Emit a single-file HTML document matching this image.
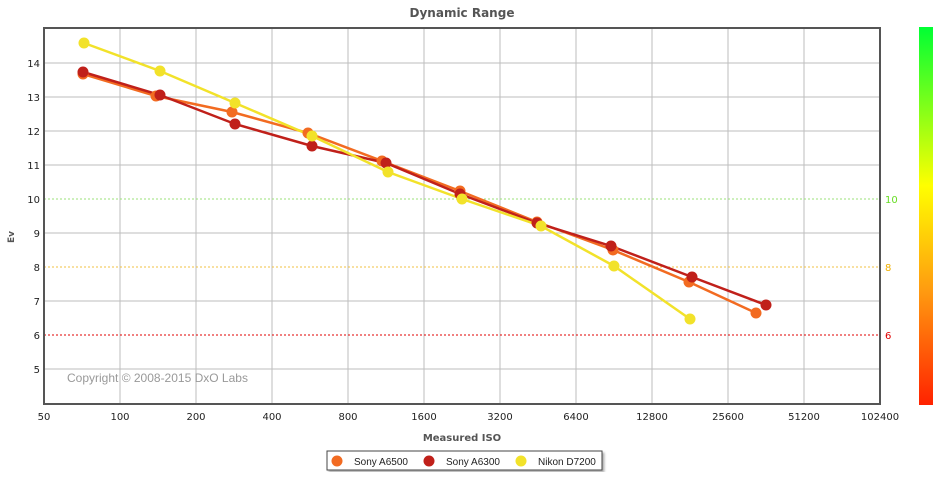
<!DOCTYPE html>
<html><head><meta charset="utf-8"><style>
body{margin:0;background:#fff;width:947px;height:487px;overflow:hidden}
svg{font-family:"Liberation Sans",sans-serif}
.v{font-family:"DejaVu Sans",sans-serif}
</style></head><body>
<svg width="947" height="487" xmlns="http://www.w3.org/2000/svg">
<defs>
<linearGradient id="cb" x1="0" y1="0" x2="0" y2="1">
<stop offset="0" stop-color="#00ff33"/><stop offset="0.42" stop-color="#ffff00"/><stop offset="0.7" stop-color="#ff9a10"/><stop offset="1" stop-color="#ff2200"/>
</linearGradient>
<filter id="sh"><feDropShadow dx="2" dy="2" stdDeviation="1" flood-opacity="0.3"/></filter>
</defs>
<text class="v" x="462" y="17" text-anchor="middle" font-size="12" font-weight="bold" fill="#555">Dynamic Range</text>
<g stroke="#bdbdbd" stroke-width="1">
<line x1="120" y1="28" x2="120" y2="404"/><line x1="196" y1="28" x2="196" y2="404"/><line x1="272" y1="28" x2="272" y2="404"/><line x1="348" y1="28" x2="348" y2="404"/><line x1="424" y1="28" x2="424" y2="404"/><line x1="500" y1="28" x2="500" y2="404"/><line x1="576" y1="28" x2="576" y2="404"/><line x1="652" y1="28" x2="652" y2="404"/><line x1="728" y1="28" x2="728" y2="404"/><line x1="804" y1="28" x2="804" y2="404"/>
<line x1="44" y1="63" x2="880" y2="63"/><line x1="44" y1="97" x2="880" y2="97"/><line x1="44" y1="131" x2="880" y2="131"/><line x1="44" y1="165" x2="880" y2="165"/><line x1="44" y1="233" x2="880" y2="233"/><line x1="44" y1="301" x2="880" y2="301"/><line x1="44" y1="369" x2="880" y2="369"/>
</g>
<line x1="44" y1="199" x2="880" y2="199" stroke="#9be07a" stroke-dasharray="2,2"/>
<line x1="44" y1="267" x2="880" y2="267" stroke="#f0c040" stroke-dasharray="2,2"/>
<line x1="44" y1="335" x2="880" y2="335" stroke="#e00000" stroke-dasharray="2,2"/>
<rect x="44" y="28" width="836" height="376" fill="none" stroke="#555" stroke-width="2"/>
<g class="v" font-size="10" fill="#222" text-anchor="end">
<text x="40" y="67">14</text><text x="40" y="101">13</text><text x="40" y="135">12</text><text x="40" y="169">11</text><text x="40" y="203">10</text><text x="40" y="237">9</text><text x="40" y="271">8</text><text x="40" y="305">7</text><text x="40" y="339">6</text><text x="40" y="373">5</text>
</g>
<g class="v" font-size="10">
<text x="885" y="203" fill="#66dd22">10</text><text x="885" y="271" fill="#f0b000">8</text><text x="885" y="339" fill="#e00000">6</text>
</g>
<g class="v" font-size="10" fill="#222" text-anchor="middle">
<text x="44" y="420">50</text><text x="120" y="420">100</text><text x="196" y="420">200</text><text x="272" y="420">400</text><text x="348" y="420">800</text><text x="424" y="420">1600</text><text x="500" y="420">3200</text><text x="576" y="420">6400</text><text x="652" y="420">12800</text><text x="728" y="420">25600</text><text x="804" y="420">51200</text><text x="880" y="420">102400</text>
</g>
<text class="v" x="462" y="441" text-anchor="middle" font-size="10" font-weight="bold" fill="#555">Measured ISO</text>
<text class="v" transform="translate(14,237) rotate(-90)" text-anchor="middle" font-size="9" font-weight="bold" fill="#555">Ev</text>
<text x="67" y="382" font-size="12" fill="#999">Copyright © 2008-2015 DxO Labs</text>
<rect x="919" y="27" width="14" height="378" fill="url(#cb)"/>
<g fill="none" stroke-width="2.5">
<polyline stroke="#f26b21" points="83,74 156,96 232,112 308,133 382,161 460,191 537,222 613,250 689,282 756,313"/>
<polyline stroke="#c0201a" points="83,72 160,95 235,124 312,146 386,163 460,194 537,223 611,246 692,277 766,305"/>
<polyline stroke="#f2e22a" points="84,43 160,71 235,103 312,136 388,172 462,199 541,226 614,266 690,319"/>
</g>
<g fill="#f26b21"><circle cx="83" cy="74" r="5.5"/><circle cx="156" cy="96" r="5.5"/><circle cx="232" cy="112" r="5.5"/><circle cx="308" cy="133" r="5.5"/><circle cx="382" cy="161" r="5.5"/><circle cx="460" cy="191" r="5.5"/><circle cx="537" cy="222" r="5.5"/><circle cx="613" cy="250" r="5.5"/><circle cx="689" cy="282" r="5.5"/><circle cx="756" cy="313" r="5.5"/></g>
<g fill="#c0201a"><circle cx="83" cy="72" r="5.5"/><circle cx="160" cy="95" r="5.5"/><circle cx="235" cy="124" r="5.5"/><circle cx="312" cy="146" r="5.5"/><circle cx="386" cy="163" r="5.5"/><circle cx="460" cy="194" r="5.5"/><circle cx="537" cy="223" r="5.5"/><circle cx="611" cy="246" r="5.5"/><circle cx="692" cy="277" r="5.5"/><circle cx="766" cy="305" r="5.5"/></g>
<g fill="#f2e22a"><circle cx="84" cy="43" r="5.5"/><circle cx="160" cy="71" r="5.5"/><circle cx="235" cy="103" r="5.5"/><circle cx="312" cy="136" r="5.5"/><circle cx="388" cy="172" r="5.5"/><circle cx="462" cy="199" r="5.5"/><circle cx="541" cy="226" r="5.5"/><circle cx="614" cy="266" r="5.5"/><circle cx="690" cy="319" r="5.5"/></g>
<rect x="327" y="451" width="275" height="19" fill="#fff" stroke="#444" filter="url(#sh)"/>
<g font-size="10" fill="#222">
<circle cx="337" cy="461" r="5.5" fill="#f26b21"/><text x="354" y="465">Sony A6500</text>
<circle cx="429" cy="461" r="5.5" fill="#c0201a"/><text x="446" y="465">Sony A6300</text>
<circle cx="521" cy="461" r="5.5" fill="#f2e22a"/><text x="538" y="465">Nikon D7200</text>
</g>
</svg>
</body></html>
